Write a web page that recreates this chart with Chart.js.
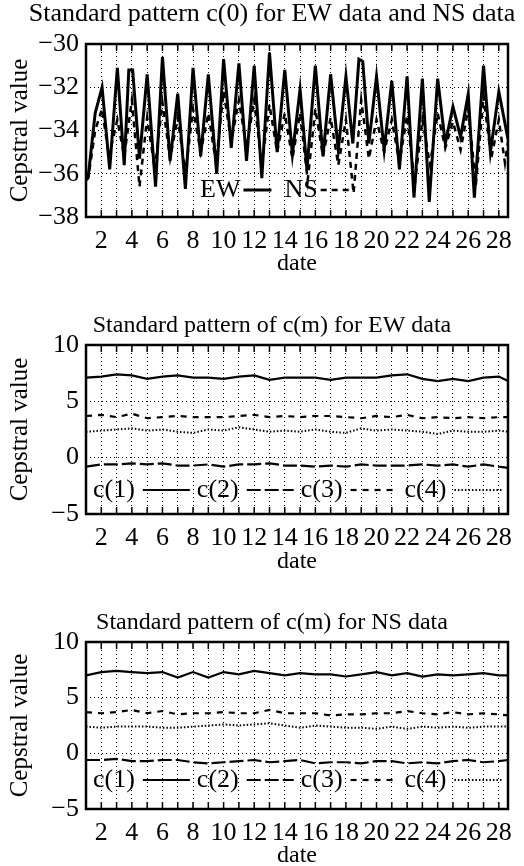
<!DOCTYPE html>
<html lang="en">
<head>
<meta charset="UTF-8" />
<title>Standard pattern of cepstral values</title>
<script src="https://cdn.jsdelivr.net/npm/chart.js"></script>
<style>
    body { margin: 0; background: #fff; }
    canvas { position: absolute; left: 0; }
    #c0Chart { top: 0; }
    #ewChart { top: 295px; }
    #nsChart { top: 590px; }
</style>
</head>
<body>
<canvas id="c0Chart" width="524" height="290"></canvas>
<canvas id="ewChart" width="524" height="290"></canvas>
<canvas id="nsChart" width="524" height="276"></canvas>
<script>
// c(0), peaks and troughs
const ewDates = [1.0, 1.15, 1.6, 2.05, 2.55, 3.05, 3.5, 3.8, 4.05, 4.5, 5.0, 5.55, 6.0, 6.5, 7.0, 7.5, 8.0, 8.5, 9.0, 9.55,
    10.0, 10.5, 11.0, 11.5, 12.0, 12.5, 13.0, 13.5, 14.0, 14.5, 15.0, 15.45, 16.0, 16.5, 17.0, 17.5, 18.0, 18.45, 18.85, 19.1,
    19.5, 20.0, 20.5, 21.0, 21.5, 22.0, 22.45, 23.0, 23.45, 24.0, 24.5, 25.0, 25.5, 26.0, 26.4, 27.0, 27.45, 28.0, 28.6];
const ewC0 = [-36.2, -36.1, -33.2, -32.0, -35.8, -31.1, -35.6, -31.2, -31.2, -35.3, -31.4, -36.6, -30.6, -35.4, -32.3, -36.7, -31.1, -35.2, -31.4, -36.0,
    -30.7, -34.8, -30.9, -35.4, -31.0, -36.2, -30.4, -35.0, -31.2, -35.1, -32.1, -35.8, -31.0, -35.2, -31.4, -34.9, -31.5, -34.6, -30.7, -30.8,
    -34.6, -31.5, -34.9, -31.7, -35.8, -31.5, -37.1, -31.6, -37.3, -31.6, -34.6, -32.9, -34.3, -32.3, -37.1, -31.0, -35.0, -32.2, -34.4];

const nsDates = [1.0, 1.15, 1.6, 2.05, 2.5, 3.05, 3.5, 4.0, 4.5, 5.0, 5.5, 6.0, 6.5, 7.0, 7.5, 8.0, 8.5, 9.0, 9.5, 10.0,
    10.5, 11.0, 11.5, 12.0, 12.5, 13.0, 13.5, 14.0, 14.5, 15.0, 15.5, 16.0, 16.5, 17.0, 17.5, 18.0, 18.5, 19.0, 19.5, 20.0,
    20.5, 21.0, 21.5, 22.0, 22.5, 23.0, 23.5, 24.0, 24.5, 25.0, 25.5, 26.0, 26.5, 27.0, 27.5, 28.0, 28.4, 28.6];
const nsC0 = [-36.3, -36.2, -34.0, -33.0, -35.2, -33.5, -35.2, -32.6, -36.6, -33.4, -35.8, -32.7, -35.3, -33.4, -36.0, -33.0, -35.0, -33.2, -35.5, -32.2,
    -34.5, -32.6, -34.8, -32.6, -35.6, -32.8, -35.0, -33.2, -35.3, -33.2, -36.3, -33.0, -35.2, -33.4, -35.6, -33.5, -36.9, -32.6, -35.3, -33.5,
    -35.0, -33.5, -35.5, -33.3, -36.5, -33.5, -35.6, -33.2, -34.8, -33.6, -34.9, -33.0, -36.5, -32.4, -35.3, -33.5, -35.5, -34.5];

// c(1)..c(4), one reading per day
const cmDates = [1, 2, 3, 4, 5, 6, 7, 8, 9, 10, 11, 12, 13, 14, 15, 16, 17, 18, 19, 20, 21, 22, 23, 24, 25, 26, 27, 28, 28.6];

const ewC1 = [7.1, 7.2, 7.4, 7.3, 7.0, 7.2, 7.3, 7.1, 7.1, 7.0, 7.2, 7.3, 6.9, 7.1, 7.1, 7.1, 6.9, 7.1, 7.1, 7.1, 7.3, 7.4, 7.0, 6.8, 7.0, 6.8, 7.1, 7.2, 6.8];
const ewC2 = [-0.8, -0.6, -0.6, -0.5, -0.6, -0.5, -0.7, -0.7, -0.6, -0.8, -0.6, -0.6, -0.5, -0.7, -0.7, -0.8, -0.7, -0.8, -0.6, -0.7, -0.7, -0.7, -0.6, -0.7, -0.6, -0.8, -0.6, -0.8, -0.9];
const ewC3 = [3.7, 3.8, 3.6, 3.9, 3.5, 3.6, 3.7, 3.6, 3.6, 3.6, 3.7, 3.8, 3.6, 3.7, 3.6, 3.7, 3.7, 3.6, 3.5, 3.7, 3.6, 3.8, 3.5, 3.6, 3.5, 3.6, 3.5, 3.6, 3.6];
const ewC4 = [2.3, 2.4, 2.5, 2.6, 2.4, 2.5, 2.3, 2.2, 2.5, 2.4, 2.7, 2.5, 2.3, 2.4, 2.3, 2.5, 2.3, 2.2, 2.6, 2.4, 2.5, 2.4, 2.3, 2.1, 2.4, 2.3, 2.3, 2.4, 2.3];

const nsC1 = [7.0, 7.3, 7.4, 7.3, 7.2, 7.3, 6.8, 7.3, 6.8, 7.3, 7.1, 7.4, 7.2, 7.0, 7.2, 7.1, 7.1, 6.9, 7.1, 7.3, 7.0, 7.2, 6.9, 7.1, 7.0, 7.1, 7.2, 7.0, 7.0];
const nsC2 = [-0.6, -0.6, -0.5, -0.7, -0.7, -0.6, -0.6, -0.8, -0.9, -0.8, -0.7, -0.6, -0.8, -0.7, -0.6, -0.9, -0.8, -0.8, -0.9, -0.7, -0.7, -0.9, -0.8, -0.9, -0.7, -0.6, -0.8, -0.7, -0.6];
const nsC3 = [3.7, 3.6, 3.7, 3.9, 3.6, 3.8, 3.5, 3.6, 3.6, 3.7, 3.6, 3.6, 3.9, 3.6, 3.6, 3.6, 3.4, 3.5, 3.5, 3.6, 3.6, 3.8, 3.6, 3.5, 3.7, 3.5, 3.6, 3.5, 3.4];
const nsC4 = [2.4, 2.3, 2.4, 2.4, 2.4, 2.3, 2.3, 2.4, 2.5, 2.6, 2.5, 2.6, 2.7, 2.5, 2.3, 2.5, 2.4, 2.3, 2.3, 2.2, 2.4, 2.2, 2.4, 2.3, 2.4, 2.3, 2.4, 2.4, 2.4];

const FONT = '"Liberation Serif", "Times New Roman", serif';
Chart.defaults.font.family = FONT;
Chart.defaults.color = '#000';

const pts = (xs, ys) => xs.map((x, i) => ({ x: x, y: ys[i] }));
const minus = v => String(v).replace('-', '\u2212');

// box around the plot + inward tick marks on top and bottom
const framePlugin = {
    id: 'frame',
    afterDraw(chart) {
        const { ctx, chartArea: a, scales: { x } } = chart;
        ctx.save();
        ctx.strokeStyle = '#000';
        ctx.lineWidth = 1.5;
        x.ticks.forEach(t => {
            const px = x.getPixelForValue(t.value);
            ctx.beginPath();
            ctx.moveTo(px, a.bottom); ctx.lineTo(px, a.bottom - 7);
            ctx.moveTo(px, a.top); ctx.lineTo(px, a.top + 7);
            ctx.stroke();
        });
        ctx.lineWidth = 2.5;
        ctx.strokeRect(a.left, a.top, a.right - a.left, a.bottom - a.top);
        ctx.restore();
    }
};

// legend inside the plot: "label  ----" pairs on one row
const innerLegend = {
    id: 'innerLegend',
    afterDatasetsDraw(chart, args, opts) {
        const { ctx, chartArea: a } = chart;
        let x = a.left + opts.x;
        const y = a.top + opts.y;
        ctx.save();
        ctx.font = '26px ' + FONT;
        ctx.textBaseline = 'middle';
        ctx.fillStyle = '#000';
        ctx.strokeStyle = '#000';
        chart.data.datasets.forEach(ds => {
            ctx.fillText(ds.label, x, y);
            x += ctx.measureText(ds.label).width + opts.gap;
            ctx.beginPath();
            ctx.setLineDash(ds.borderDash || []);
            ctx.lineWidth = ds.borderWidth;
            ctx.moveTo(x, y);
            ctx.lineTo(x + opts.lineLen, y);
            ctx.stroke();
            x += opts.lineLen + opts.space;
        });
        ctx.restore();
    }
};

function makeChart(id, cfg) {
    const H = document.getElementById(id).height;
    return new Chart(document.getElementById(id), {
        type: 'line',
        data: { datasets: cfg.datasets },
        plugins: [framePlugin, innerLegend],
        options: {
            responsive: false,
            animation: false,
            devicePixelRatio: 1,
            layout: { padding: { left: 20, right: 0, top: 0, bottom: 0 } },
            elements: { point: { radius: 0 }, line: { tension: 0 } },
            scales: {
                x: {
                    type: 'linear', min: 1, max: 28.6,
                    afterFit: s => { s.height = H - cfg.plotBottom; },
                    border: { display: false, dash: [1, 3] },
                    grid: { color: '#000', lineWidth: 1, drawTicks: false },
                    ticks: {
                        stepSize: 1, includeBounds: false, padding: 9, maxRotation: 0, autoSkip: false,
                        font: { size: 26 },
                        callback: v => (v % 2 === 0 ? String(v) : '')
                    },
                    title: { display: true, text: 'date', font: { size: 24, lineHeight: 1.2 }, padding: { top: 0, bottom: H - cfg.dateY - 13 } }
                },
                y: {
                    min: cfg.yMin, max: cfg.yMax,
                    afterFit: s => { s.width = 66; },
                    border: { display: false, dash: [1, 3] },
                    grid: { color: '#000', lineWidth: 1, drawTicks: false },
                    ticks: { stepSize: cfg.yStep, padding: 7, font: { size: 26 }, callback: minus },
                    title: { display: true, text: 'Cepstral value', font: { size: 25, lineHeight: 1.2 }, padding: { top: -15, bottom: 0 } }
                },
                // empty right axis, only keeps the plot 16px off the right edge
                yR: {
                    type: 'linear', position: 'right',
                    afterFit: s => { s.width = 16; },
                    border: { display: false },
                    grid: { display: false },
                    ticks: { display: false }
                }
            },
            plugins: {
                legend: { display: false },
                tooltip: { enabled: false },
                title: {
                    display: true, text: cfg.title,
                    font: { size: cfg.titleSize, weight: 'normal', lineHeight: 1 },
                    padding: { top: cfg.titleY - cfg.titleSize / 2, bottom: cfg.plotTop - cfg.titleY - cfg.titleSize / 2 }
                },
                innerLegend: cfg.legend
            }
        }
    });
}

const lineStyle = (label, data, width, dash) => ({
    label: label, data: data, borderColor: '#000', borderWidth: width, borderDash: dash, fill: false
});

const c0Chart = makeChart('c0Chart', {
    title: 'Standard pattern c(0) for EW data and NS data', titleSize: 26, titleY: 14,
    plotTop: 44, plotBottom: 217, dateY: 265,
    yMin: -38, yMax: -30, yStep: 2,
    legend: { x: 114, y: 146, gap: 3, lineLen: 28, space: 13 },
    datasets: [
        lineStyle('EW', pts(ewDates, ewC0), 3, []),
        lineStyle('NS', pts(nsDates, nsC0), 2.5, [6, 5])
    ]
});

const cmSets = (c1, c2, c3, c4) => [
    lineStyle('c(1)', pts(cmDates, c1), 2.2, []),
    lineStyle('c(2)', pts(cmDates, c2), 2.2, [14, 4]),
    lineStyle('c(3)', pts(cmDates, c3), 2.2, [6, 6]),
    lineStyle('c(4)', pts(cmDates, c4), 2, [1.5, 2])
];

const ewChart = makeChart('ewChart', {
    title: 'Standard pattern of c(m) for EW data', titleSize: 24, titleY: 31,
    plotTop: 50, plotBottom: 219, dateY: 268,
    yMin: -5, yMax: 10, yStep: 5,
    legend: { x: 7, y: 145, gap: 8, lineLen: 47, space: 7 },
    datasets: cmSets(ewC1, ewC2, ewC3, ewC4)
});

const nsChart = makeChart('nsChart', {
    title: 'Standard pattern of c(m) for NS data', titleSize: 24, titleY: 33,
    plotTop: 52, plotBottom: 219, dateY: 267,
    yMin: -5, yMax: 10, yStep: 5,
    legend: { x: 7, y: 138, gap: 8, lineLen: 47, space: 7 },
    datasets: cmSets(nsC1, nsC2, nsC3, nsC4)
});
</script>
</body>
</html>
